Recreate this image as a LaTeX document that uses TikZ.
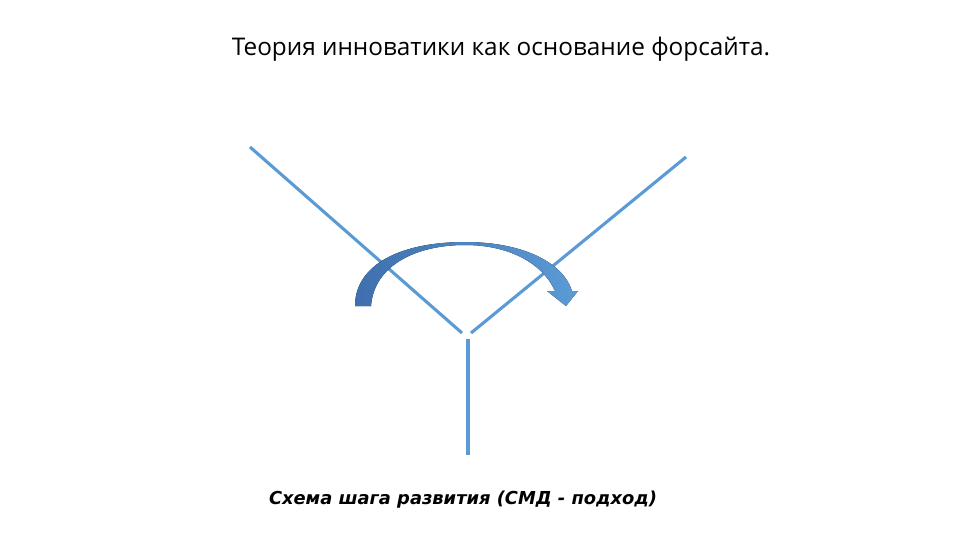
\documentclass[tikz,border=0pt]{standalone}
\usepackage{fontspec}
\setmainfont{Open Sans}
\newfontfamily\capfont{DejaVu Sans}
\usepackage{tikz}
\definecolor{linkblue}{HTML}{5B9BD5}
\definecolor{arrowdark}{HTML}{3F6FAE}
\definecolor{arrowlight}{HTML}{5B9BD5}
\tikzstyle{branch} = [draw=linkblue, line width=2.2pt]
\tikzstyle{turn} = [left color=arrowdark, right color=arrowlight, draw=none]
\tikzstyle{title} = [font={\fontsize{17.3}{20}\selectfont}, inner sep=0pt]
\tikzstyle{caption} = [font={\capfont\bfseries\itshape\fontsize{12.7}{15}\selectfont}, inner sep=0pt]

\begin{document}
\begin{tikzpicture}[x=0.025cm, y=-0.025cm]
  \useasboundingbox (0,0) rectangle (960,540);
  \node[title](head) at (501,49){Теория инноватики как основание форсайта.};
  \coordinate (lt) at (250,147);
  \coordinate (lb) at (462,333);
  \coordinate (rt) at (686,157);
  \coordinate (rb) at (471,333);
  \coordinate (vt) at (468,339);
  \coordinate (vb) at (468,455);
  \draw[branch](lt)--(lb);
  \draw[branch](rt)--(rb);
  \draw[branch](vt)--(vb);
  \fill[turn] (355,306) .. controls (355,265) and (400,242) .. (465,242)
    .. controls (522,242) and (563,262) .. (572,291) -- (578,291) -- (566,306)
    -- (547,291) -- (555,291) .. controls (543,264) and (510,245) .. (465,245)
    .. controls (415,245) and (374,266) .. (371,306) -- cycle;
  \node[caption](note) at (463,500){Схема шага развития (СМД - подход)};
\end{tikzpicture}
\end{document}
